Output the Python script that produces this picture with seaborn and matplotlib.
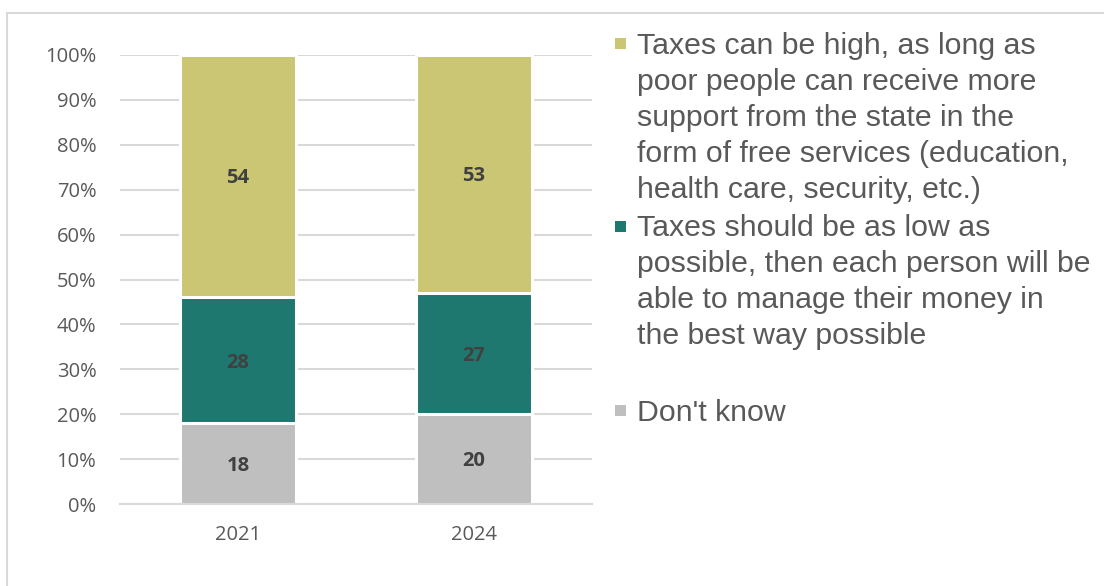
import matplotlib
matplotlib.use("Agg")
import matplotlib.pyplot as plt
import seaborn as sns
import pandas as pd
import numpy as np
from matplotlib.lines import Line2D
from matplotlib.patches import Rectangle

years = ["2021", "2024"]
dont_know = [18, 20]
taxes_low = [28, 27]
taxes_high = [54, 53]
series_labels = [
    "Taxes can be high, as long as\npoor people can receive more\nsupport from the state in the\nform of free services (education,\nhealth care, security, etc.)",
    "Taxes should be as low as\npossible, then each person will be\nable to manage their money in\nthe best way possible",
    "Don't know",
]
colors = ["#CBC674", "#1F786F", "#BFBFBF"]
yticks = [0, 10, 20, 30, 40, 50, 60, 70, 80, 90, 100]

sns.set_style("white")
plt.rcParams["font.family"] = ["Open Sans", "DejaVu Sans"]

W, H = 1104, 586
fig = plt.figure(figsize=(W / 100, H / 100), dpi=100)
ax = fig.add_axes([120 / W, 1 - 504 / H, (592 - 120) / W, (504 - 55) / H])

df = pd.DataFrame({
    "year": years,
    "dk": dont_know,
    "low": taxes_low,
    "high": taxes_high,
})
df["c_dk"] = df["dk"]
df["c_low"] = df["dk"] + df["low"]
df["c_high"] = df["c_low"] + df["high"]

lw = 2.2
for col, colr in [("c_high", colors[0]), ("c_low", colors[1]), ("c_dk", colors[2])]:
    sns.barplot(data=df, x="year", y=col, color=colr, width=0.49,
                edgecolor="white", linewidth=lw, saturation=1, ax=ax, zorder=3)

# data labels
for i in range(len(years)):
    segs = [(0, df["c_dk"][i], dont_know[i]),
            (df["c_dk"][i], df["c_low"][i], taxes_low[i]),
            (df["c_low"][i], df["c_high"][i], taxes_high[i])]
    for lo, hi, v in segs:
        ax.text(i, (lo + hi) / 2 - 0.5, f"{v}", ha="center", va="center",
                fontsize=14.5, fontweight="bold", color="#404040", zorder=5)

ax.set_ylim(0, 100)
ax.set_xlim(-0.5, 1.5)
ax.set_yticks(yticks)
ax.set_yticklabels([f"{t}%" for t in yticks])
ax.yaxis.grid(True, color="#D9D9D9", linewidth=1.5, zorder=0)
ax.set_axisbelow(True)
ax.set_xlabel("")
ax.set_ylabel("")
for s in ["left", "right", "top"]:
    ax.spines[s].set_visible(False)
ax.spines["bottom"].set_color("#D9D9D9")
ax.spines["bottom"].set_linewidth(1.5)
ax.spines["bottom"].set_zorder(4)
ax.tick_params(axis="y", length=0, pad=17, labelsize=14.5, labelcolor="#595959")
ax.tick_params(axis="x", which="major", length=0, pad=15, labelsize=14.5, labelcolor="#595959")
ax.set_xticks([-0.5, 0.5, 1.5], minor=True)
ax.tick_params(axis="x", which="minor", length=6, width=1.5, color="#D9D9D9", direction="out")

# legend (manual layout)
text_x = 637 / W
tops = [32, 214, 399]
for lab, colr, t in zip(series_labels, colors, tops):
    fig.text(text_x, 1 - t / H, lab, ha="left", va="top", fontsize=21.8,
             color="#595959", linespacing=1.36,
             family=["Liberation Sans", "DejaVu Sans"])
for colr, t in zip(colors, [38, 221, 405]):
    sq = 11
    fig.add_artist(Rectangle((615 / W, 1 - (t + sq) / H), sq / W, sq / H,
                             transform=fig.transFigure, facecolor=colr, edgecolor="none"))

# outer border (left and top)
fig.add_artist(Line2D([7 / W, 7 / W], [0, 1 - 13 / H], transform=fig.transFigure,
                      color="#D9D9D9", linewidth=1.5))
fig.add_artist(Line2D([7 / W, 1], [1 - 13 / H, 1 - 13 / H], transform=fig.transFigure,
                      color="#D9D9D9", linewidth=1.5))

fig.savefig("out.png", dpi=100)
